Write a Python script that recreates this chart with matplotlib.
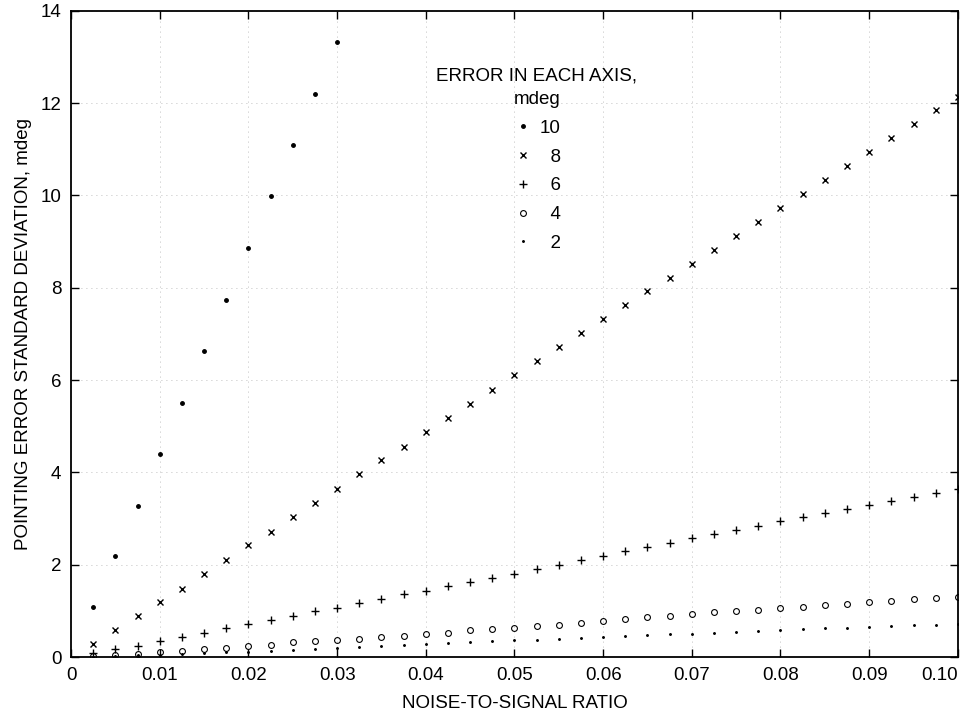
import numpy as np
import matplotlib
matplotlib.use('Agg')
import matplotlib.pyplot as plt

plt.rcParams['font.family'] = ['Liberation Sans', 'DejaVu Sans']

# noise-to-signal ratio, 0.0025 steps
ratio = [0.0025, 0.005, 0.0075, 0.01, 0.0125, 0.015, 0.0175, 0.02, 0.0225, 0.025,
         0.0275, 0.03, 0.0325, 0.035, 0.0375, 0.04, 0.0425, 0.045, 0.0475, 0.05,
         0.0525, 0.055, 0.0575, 0.06, 0.0625, 0.065, 0.0675, 0.07, 0.0725, 0.075,
         0.0775, 0.08, 0.0825, 0.085, 0.0875, 0.09, 0.0925, 0.095, 0.0975, 0.10]

# pointing error std dev (mdeg) for each axis error
err_10 = [1.08, 2.18, 3.28, 4.40, 5.51, 6.62, 7.74, 8.86, 9.98, 11.09, 12.2, 13.33]
err_8 = [0.28, 0.58, 0.88, 1.19, 1.48, 1.80, 2.11, 2.42, 2.72, 3.03,
         3.33, 3.65, 3.96, 4.26, 4.56, 4.87, 5.18, 5.49, 5.79, 6.10,
         6.41, 6.71, 7.02, 7.33, 7.63, 7.94, 8.21, 8.51, 8.82, 9.12,
         9.42, 9.72, 10.03, 10.33, 10.63, 10.95, 11.24, 11.55, 11.85, 12.14]
err_6 = [0.09, 0.17, 0.24, 0.35, 0.44, 0.53, 0.62, 0.71, 0.81, 0.89,
         0.99, 1.07, 1.17, 1.25, 1.36, 1.44, 1.53, 1.62, 1.71, 1.81,
         1.90, 2.00, 2.11, 2.20, 2.29, 2.38, 2.48, 2.57, 2.66, 2.76,
         2.85, 2.95, 3.03, 3.12, 3.20, 3.30, 3.38, 3.47, 3.56, 3.65]
err_4 = [0.02, 0.05, 0.07, 0.10, 0.14, 0.17, 0.19, 0.25, 0.27, 0.32,
         0.35, 0.38, 0.40, 0.43, 0.46, 0.51, 0.53, 0.58, 0.61, 0.64,
         0.67, 0.70, 0.74, 0.78, 0.82, 0.86, 0.90, 0.93, 0.97, 1.00,
         1.03, 1.06, 1.09, 1.13, 1.16, 1.19, 1.22, 1.25, 1.28, 1.30]
err_2 = [0.01, 0.02, 0.04, 0.05, 0.07, 0.09, 0.10, 0.12, 0.14, 0.16,
         0.18, 0.20, 0.22, 0.24, 0.26, 0.28, 0.30, 0.32, 0.34, 0.36,
         0.38, 0.39, 0.41, 0.44, 0.46, 0.48, 0.50, 0.51, 0.53, 0.55,
         0.57, 0.58, 0.60, 0.62, 0.63, 0.65, 0.67, 0.69, 0.70, 0.72]

xticks = [0, 0.01, 0.02, 0.03, 0.04, 0.05, 0.06, 0.07, 0.08, 0.09, 0.10]
xtick_labels = ['0', '0.01', '0.02', '0.03', '0.04', '0.05', '0.06', '0.07', '0.08', '0.09', '0.10']
yticks = [0, 2, 4, 6, 8, 10, 12, 14]

fig = plt.figure(figsize=(9.65, 7.15), dpi=100)
ax = fig.add_axes([0.0736, 0.081, 0.919, 0.904])

ax.plot(ratio[:len(err_10)], err_10, linestyle='none', marker='o', markersize=2.5,
        color='black', label='10')
ax.plot(ratio, err_8, linestyle='none', marker='x', markersize=4.5, markeredgewidth=1.0,
        color='black', label='  8')
ax.plot(ratio, err_6, linestyle='none', marker='+', markersize=5.5, markeredgewidth=1.0,
        color='black', label='  6')
ax.plot(ratio, err_4, linestyle='none', marker='o', markersize=4.2, markeredgewidth=0.8,
        markerfacecolor='none', color='black', label='  4')
ax.plot(ratio, err_2, linestyle='none', marker='o', markersize=1.1,
        color='black', label='  2')

ax.set_xlim(0, 0.10)
ax.set_ylim(0, 14)
ax.set_xticks(xticks)
ax.set_xticklabels(xtick_labels)
ax.set_yticks(yticks)
ax.tick_params(direction='in', length=6, width=1, top=True, right=True,
               labelsize=13.5, pad=7)
# last x label sits inside the right edge like the original
ax.get_xticklabels()[-1].set_horizontalalignment('right')
for s in ax.spines.values():
    s.set_linewidth(1.3)

ax.grid(True, linestyle=(0, (1, 5)), linewidth=0.6, color='#aaaaaa')

ax.set_xlabel('NOISE-TO-SIGNAL RATIO', fontsize=13.5, labelpad=8)
ax.set_ylabel('POINTING ERROR STANDARD DEVIATION, mdeg', fontsize=13.5, labelpad=6)

leg = ax.legend(title='ERROR IN EACH AXIS,\nmdeg', frameon=False, numpoints=1,
                loc='upper left', bbox_to_anchor=(0.393, 0.939), fontsize=13.5,
                title_fontsize=13.5, alignment='center', handlelength=1.0,
                handletextpad=0.4, labelspacing=0.62)
leg.get_title().set_multialignment('center')
leg.get_title().set_linespacing(1.55)

fig.savefig('out.png', dpi=100)
